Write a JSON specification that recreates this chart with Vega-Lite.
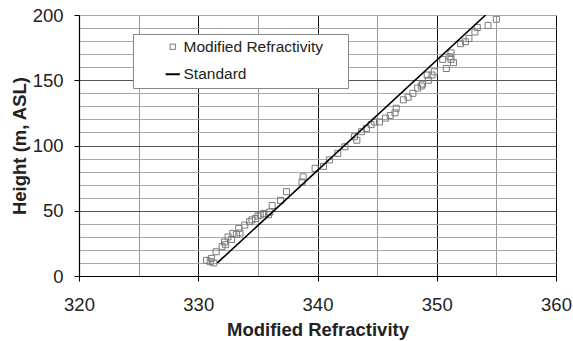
{
  "$schema": "https://vega.github.io/schema/vega-lite/v6.json",
  "width": 477,
  "height": 261,
  "autosize": {"type": "none"},
  "padding": {"left": 79, "top": 15, "right": 17, "bottom": 65},
  "background": "white",
  "config": {
    "view": {"stroke": null},
    "font": "Liberation Sans",
    "axis": {
      "labelFont": "Liberation Sans",
      "titleFont": "Liberation Sans",
      "labelFontSize": 18.5,
      "titleFontSize": 18.5,
      "titleFontWeight": "bold",
      "labelColor": "#222",
      "titleColor": "#222",
      "labelFlush": false,
      "labelOverlap": false,
      "domainColor": "#000",
      "domainWidth": 1.2,
      "tickColor": "#000",
      "tickSize": 5
    }
  },
  "data": {
    "values": [
      {"series": "Modified Refractivity", "m": 330.7, "h": 12},
      {"series": "Modified Refractivity", "m": 331.0, "h": 11},
      {"series": "Modified Refractivity", "m": 331.3, "h": 10},
      {"series": "Modified Refractivity", "m": 331.1, "h": 13.5},
      {"series": "Modified Refractivity", "m": 331.5, "h": 18.6},
      {"series": "Modified Refractivity", "m": 332.0, "h": 22.5},
      {"series": "Modified Refractivity", "m": 332.3, "h": 24},
      {"series": "Modified Refractivity", "m": 332.2, "h": 26},
      {"series": "Modified Refractivity", "m": 332.8, "h": 28},
      {"series": "Modified Refractivity", "m": 332.5, "h": 30},
      {"series": "Modified Refractivity", "m": 333.2, "h": 32},
      {"series": "Modified Refractivity", "m": 332.9, "h": 32.7},
      {"series": "Modified Refractivity", "m": 333.5, "h": 33},
      {"series": "Modified Refractivity", "m": 333.4, "h": 36.5},
      {"series": "Modified Refractivity", "m": 333.9, "h": 39},
      {"series": "Modified Refractivity", "m": 334.3, "h": 41.6},
      {"series": "Modified Refractivity", "m": 334.5, "h": 43},
      {"series": "Modified Refractivity", "m": 334.8, "h": 44},
      {"series": "Modified Refractivity", "m": 335.0, "h": 46},
      {"series": "Modified Refractivity", "m": 335.2, "h": 46.7},
      {"series": "Modified Refractivity", "m": 335.5, "h": 48},
      {"series": "Modified Refractivity", "m": 335.9, "h": 47},
      {"series": "Modified Refractivity", "m": 336.0, "h": 49},
      {"series": "Modified Refractivity", "m": 336.2, "h": 54},
      {"series": "Modified Refractivity", "m": 336.9, "h": 58},
      {"series": "Modified Refractivity", "m": 337.4, "h": 64.6},
      {"series": "Modified Refractivity", "m": 338.7, "h": 72},
      {"series": "Modified Refractivity", "m": 338.8, "h": 76},
      {"series": "Modified Refractivity", "m": 339.8, "h": 82.5},
      {"series": "Modified Refractivity", "m": 340.5, "h": 84},
      {"series": "Modified Refractivity", "m": 341.0, "h": 89},
      {"series": "Modified Refractivity", "m": 341.7, "h": 94},
      {"series": "Modified Refractivity", "m": 342.3, "h": 99},
      {"series": "Modified Refractivity", "m": 343.1, "h": 106.7},
      {"series": "Modified Refractivity", "m": 343.3, "h": 104},
      {"series": "Modified Refractivity", "m": 343.7, "h": 110.6},
      {"series": "Modified Refractivity", "m": 344.1, "h": 113},
      {"series": "Modified Refractivity", "m": 344.5, "h": 116},
      {"series": "Modified Refractivity", "m": 344.8, "h": 118},
      {"series": "Modified Refractivity", "m": 345.2, "h": 118},
      {"series": "Modified Refractivity", "m": 345.7, "h": 121},
      {"series": "Modified Refractivity", "m": 346.1, "h": 123},
      {"series": "Modified Refractivity", "m": 346.5, "h": 125},
      {"series": "Modified Refractivity", "m": 346.6, "h": 128.5},
      {"series": "Modified Refractivity", "m": 347.2, "h": 135},
      {"series": "Modified Refractivity", "m": 347.6, "h": 137},
      {"series": "Modified Refractivity", "m": 348.0, "h": 140},
      {"series": "Modified Refractivity", "m": 348.4, "h": 144},
      {"series": "Modified Refractivity", "m": 348.7, "h": 145.6},
      {"series": "Modified Refractivity", "m": 348.8, "h": 147},
      {"series": "Modified Refractivity", "m": 349.3, "h": 150},
      {"series": "Modified Refractivity", "m": 349.2, "h": 154},
      {"series": "Modified Refractivity", "m": 349.6, "h": 154},
      {"series": "Modified Refractivity", "m": 349.8, "h": 156.5},
      {"series": "Modified Refractivity", "m": 350.5, "h": 166},
      {"series": "Modified Refractivity", "m": 350.8, "h": 159},
      {"series": "Modified Refractivity", "m": 351.2, "h": 166},
      {"series": "Modified Refractivity", "m": 351.4, "h": 163.5},
      {"series": "Modified Refractivity", "m": 351.1, "h": 168},
      {"series": "Modified Refractivity", "m": 351.2, "h": 171},
      {"series": "Modified Refractivity", "m": 352.0, "h": 178},
      {"series": "Modified Refractivity", "m": 352.4, "h": 179.5},
      {"series": "Modified Refractivity", "m": 352.7, "h": 182},
      {"series": "Modified Refractivity", "m": 353.2, "h": 187},
      {"series": "Modified Refractivity", "m": 353.4, "h": 190.5},
      {"series": "Modified Refractivity", "m": 354.3, "h": 192},
      {"series": "Modified Refractivity", "m": 355.0, "h": 196.7},
      {"series": "Standard", "m": 331.6, "h": 10},
      {"series": "Standard", "m": 354.1, "h": 200}
    ]
  },
  "encoding": {
    "x": {
      "field": "m",
      "type": "quantitative",
      "scale": {"domain": [320, 360], "nice": false, "zero": false},
      "axis": {
        "title": "Modified Refractivity",
        "values": [320, 325, 330, 335, 340, 345, 350, 355, 360],
        "labelExpr": "datum.value % 10 === 0 ? datum.label : ''",
        "labelPadding": 14,
        "grid": true,
        "gridColor": {"condition": {"test": "datum.value % 10 === 0", "value": "#111"}, "value": "#999"},
        "gridWidth": 1,
        "tickOpacity": {"condition": {"test": "datum.value % 10 === 0", "value": 1}, "value": 0},
        "titleBaseline": "alphabetic",
        "titleY": 59
      }
    },
    "y": {
      "field": "h",
      "type": "quantitative",
      "scale": {"domain": [0, 200], "nice": false},
      "axis": {
        "title": "Height (m, ASL)",
        "values": [0, 10, 20, 30, 40, 50, 60, 70, 80, 90, 100, 110, 120, 130, 140, 150, 160, 170, 180, 190, 200],
        "labelExpr": "datum.value % 50 === 0 ? datum.label : ''",
        "labelPadding": 11,
        "grid": true,
        "gridColor": {"condition": {"test": "datum.value % 50 === 0 && datum.value > 0 && datum.value < 200", "value": "#555"}, "value": "#a8a8a8"},
        "gridWidth": 1,
        "tickOpacity": {"condition": {"test": "datum.value % 50 === 0", "value": 1}, "value": 0},
        "titleBaseline": "alphabetic",
        "titleAlign": "center",
        "titleX": -54,
        "titleY": 130.5
      }
    },
    "color": {
      "field": "series",
      "type": "nominal",
      "scale": {"domain": ["Modified Refractivity", "Standard"], "range": ["#7a7a7a", "#000000"]},
      "legend": {
        "title": " ",
        "titleOrient": "right",
        "titlePadding": 20,
        "titleFontSize": 4,
        "orient": "none",
        "legendX": 54,
        "legendY": 19,
        "padding": 5,
        "rowPadding": 10.5,
        "symbolOffset": 27,
        "labelFont": "Liberation Sans",
        "labelFontSize": 15.5,
        "labelColor": "#222",
        "labelOffset": 3,
        "fillColor": "white",
        "strokeColor": "#888",
        "encode": {
          "symbols": {
            "update": {
              "shape": {"signal": "datum.value === 'Standard' ? 'stroke' : 'square'"},
              "size": {"signal": "datum.value === 'Standard' ? 200 : 28"},
              "strokeWidth": {"signal": "datum.value === 'Standard' ? 2 : 1"},
              "fill": {"value": "transparent"}
            }
          }
        }
      }
    }
  },
  "layer": [
    {
      "transform": [{"filter": "datum.series === 'Modified Refractivity'"}],
      "mark": {"type": "point", "shape": "square", "filled": false, "size": 36, "strokeWidth": 1, "opacity": 1}
    },
    {
      "transform": [{"filter": "datum.series === 'Standard'"}],
      "mark": {"type": "line", "strokeWidth": 1.6, "clip": true}
    }
  ]
}
